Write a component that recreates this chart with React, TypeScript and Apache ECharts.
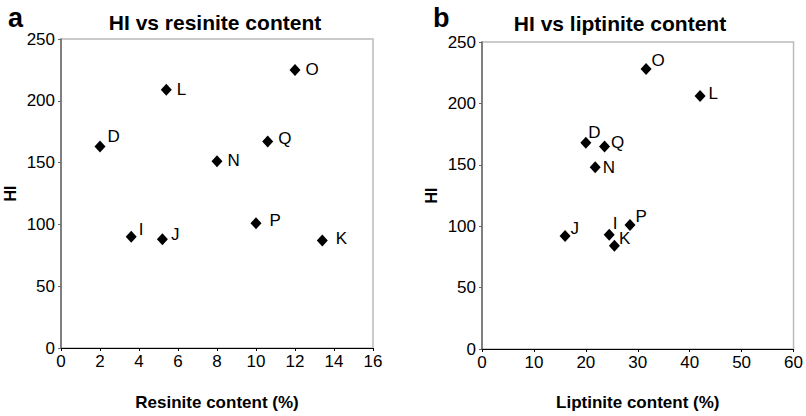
import React, { useEffect, useRef } from "react";
import * as echarts from "echarts";

// Panel a: HI vs resinite content
const namesA = ["D", "L", "O", "Q", "N", "I", "J", "P", "K"];
const resinite = [2.0, 5.4, 12.0, 10.6, 8.0, 3.6, 5.2, 10.0, 13.4];
const hiA = [163, 209, 225, 167, 151, 90, 88, 101, 87];

// Panel b: HI vs liptinite content
const namesB = ["O", "L", "D", "Q", "N", "J", "I", "K", "P"];
const liptinite = [31.6, 42.0, 20.0, 23.6, 21.8, 16.0, 24.5, 25.5, 28.5];
const hiB = [228, 206, 168, 165, 148, 92, 93, 84, 101];

const yTicks = [0, 50, 100, 150, 200, 250];

// label offsets (style only)
const offA: Record<string, number[]> = {
  D: [-3, -10], L: [0, 0], O: [0, 0], Q: [0, -3], N: [0, -1],
  I: [-3, -7], J: [-2, -5], P: [3, -3], K: [3, -2],
};
const offB: Record<string, number[]> = {
  O: [-5, -9], L: [-2, -3], D: [-8, -10], Q: [-4, -4], N: [-3, 0],
  J: [-5, -8], I: [-7, -11], K: [-6, -7], P: [-5, -8],
};

const FONT = "Liberation Sans, Arial, sans-serif";

function makeData(names: string[], xs: number[], ys: number[], off: Record<string, number[]>) {
  return names.map((n, i) => ({
    name: n,
    value: [xs[i], ys[i]],
    label: { offset: off[n] },
  }));
}

export default function App() {
  const ref = useRef<HTMLDivElement>(null);
  useEffect(() => {
    if (!ref.current) return;
    const chart = echarts.init(ref.current, null, { renderer: "svg" });
    const axisLabel = { fontSize: 17, color: "#000", fontFamily: FONT };
    const yAxisCommon = {
      type: "value" as const,
      min: yTicks[0],
      max: yTicks[yTicks.length - 1],
      interval: 50,
      name: "HI",
      nameLocation: "middle" as const,
      nameGap: 43,
      nameTextStyle: { fontSize: 16, fontWeight: "bold" as const, color: "#000", fontFamily: FONT },
      axisLine: { show: true, lineStyle: { color: "#666", width: 1.5 } },
      axisTick: { show: true, length: 3, lineStyle: { color: "#666" } },
      splitLine: { show: false },
      axisLabel: { ...axisLabel, margin: 6 },
    };
    const xAxisCommon = {
      type: "value" as const,
      nameLocation: "middle" as const,
      nameTextStyle: { fontSize: 17, fontWeight: "bold" as const, color: "#000", fontFamily: FONT },
      axisLine: { show: true, lineStyle: { color: "#000", width: 1.2 } },
      axisTick: { show: true, length: 3, lineStyle: { color: "#000" } },
      splitLine: { show: false },
      axisLabel: { ...axisLabel, margin: 5 },
    };
    const seriesCommon = {
      type: "scatter" as const,
      symbol: "diamond",
      symbolSize: [11, 12],
      itemStyle: { color: "#000", opacity: 1 },
      label: {
        show: true,
        position: "right" as const,
        distance: 5,
        formatter: "{b}",
        fontSize: 17,
        color: "#000",
        textBorderWidth: 0,
        fontFamily: FONT,
      },
    };
    chart.setOption({
      animation: false,
      backgroundColor: "#fff",
      textStyle: { fontFamily: FONT },
      grid: [
        { left: 61, top: 39, width: 312, height: 318, show: true, borderColor: "#bbb", borderWidth: 1.5 },
        { left: 482, top: 42, width: 314, height: 318, show: true, borderColor: "#bbb", borderWidth: 1.5 },
      ],
      xAxis: [
        { ...xAxisCommon, gridIndex: 0, min: 0, max: 16, interval: 2, name: "Resinite content (%)", nameGap: 46 },
        { ...xAxisCommon, gridIndex: 1, min: 0, max: 60, interval: 10, name: "Liptinite content (%)", nameGap: 45 },
      ],
      yAxis: [
        { ...yAxisCommon, gridIndex: 0 },
        { ...yAxisCommon, gridIndex: 1 },
      ],
      series: [
        { ...seriesCommon, xAxisIndex: 0, yAxisIndex: 0, data: makeData(namesA, resinite, hiA, offA) },
        { ...seriesCommon, xAxisIndex: 1, yAxisIndex: 1, data: makeData(namesB, liptinite, hiB, offB) },
      ],
      graphic: [
        { type: "text", left: 8, top: 4, style: { text: "a", fontSize: 27, fontWeight: "bold", fill: "#000", fontFamily: FONT } },
        { type: "text", left: 433, top: 4, style: { text: "b", fontSize: 27, fontWeight: "bold", fill: "#000", fontFamily: FONT } },
        { type: "text", x: 215, y: 22, style: { text: "HI vs resinite content", fontSize: 21, fontWeight: "bold", fill: "#000", fontFamily: FONT, align: "center", verticalAlign: "middle" } },
        { type: "text", x: 620, y: 23, style: { text: "HI vs liptinite content", fontSize: 21, fontWeight: "bold", fill: "#000", fontFamily: FONT, align: "center", verticalAlign: "middle" } },
      ],
    });
    return () => chart.dispose();
  }, []);
  return <div ref={ref} style={{ width: 806, height: 416, position: "absolute", left: 0, top: 0 }} />;
}
